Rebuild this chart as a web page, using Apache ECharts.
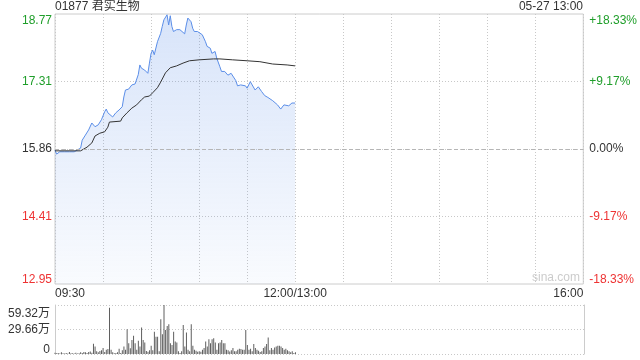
<!DOCTYPE html>
<html><head><meta charset="utf-8">
<script src="https://cdn.jsdelivr.net/npm/echarts@6/dist/echarts.min.js"></script>
<style>html,body{margin:0;padding:0;background:#fff}#c{width:640px;height:360px}</style>
</head><body><div id="c"></div>
<script>
const title = '01877 君实生物';
const stamp = '05-27 13:00';
const watermark = 'sina.com';
const prevClose = 15.86;
const priceMinutes = [0,1,3,6,9,12,16,17,19,21,23,24,25,27,29,31,32,33,36,38,40,42,43,44,46,48,50,52,53,54,56,58,59,60,61,62,64,66,67,68,69,70,71,72,73,74,76,78,79,81,82,83,85,86,87,89,92,94,95,97,98,100,101,103,104,106,108,110,111,113,114,116,119,120,122,123,125,127,129,131,133,136,139,141,143,146,148,150];
const prices = [15.84,15.75,15.80,15.80,15.80,15.80,15.88,16.05,16.16,16.27,16.42,16.45,16.34,16.38,16.49,16.66,16.72,16.64,16.55,16.64,16.70,16.77,16.98,17.13,17.15,17.24,17.26,17.46,17.67,17.60,17.56,17.49,17.71,17.92,17.99,17.89,18.17,18.35,18.50,18.64,18.68,18.75,18.53,18.73,18.50,18.39,18.43,18.43,18.46,18.34,18.53,18.68,18.60,18.46,18.39,18.39,18.32,18.17,18.07,18.03,17.92,17.96,17.82,17.63,17.53,17.53,17.45,17.49,17.53,17.33,17.22,17.24,17.22,17.17,17.31,17.28,17.13,17.20,17.10,17.01,16.97,16.90,16.81,16.72,16.81,16.79,16.85,16.85];
const avgMinutes = [0,16,20,23,25,28,31,33,34,41,42,45,48,51,54,56,59,61,64,66,69,72,76,80,84,90,99,103,111,120,128,136,145,150];
const avgPrices = [15.82,15.82,15.90,15.99,16.14,16.20,16.23,16.33,16.44,16.46,16.53,16.64,16.74,16.81,16.92,16.98,17.00,17.07,17.18,17.30,17.50,17.61,17.65,17.71,17.76,17.78,17.80,17.80,17.78,17.76,17.74,17.69,17.67,17.65];
// volume in 万 shares, one bar per minute from 09:30
const volumes = [1.5,0.8,1.2,0.5,2.0,1.0,0.6,1.3,0.5,2.5,0.8,1.0,0.7,1.5,0.6,1.0,2.0,1.2,
2.5,2.0,1.2,2.5,3.0,1.5,12.4,9,3.2,2.0,3.6,4.4,7.2,2.4,5.2,6.0,56,5.2,2,0.8,
1.2,2,6.4,1.2,4.4,9,5.2,30,13,7,17,22,13,5.2,16,9,32,17,14,3.6,
2.8,4.4,10,4.4,27,21,21,3.2,42,24,59.32,29,34,36,13,11,27,15,14,3.2,
1.2,3.2,35,9,26,5.2,3.2,36,10,5.2,4,2.8,3.2,2.8,5.2,7.2,15,9,18,13,
18,19,14,5.2,13,14,17,13,13,5.2,4.4,3.0,4.4,7.2,3.2,3.2,5.2,6.4,6,5.2,
5.2,29,11,5.2,6.4,3.2,12,7.2,5.2,4,2.4,3.2,7.2,9,12,20,4.4,7.2,5.2,8,
9,10,10,9,7.2,5.2,6.4,4.4,3.2,2,3.2,1.2,2];
const leftLabels = ['12.95','14.41','15.86','17.31','18.77'];
const rightLabels = ['-18.33%','-9.17%','0.00%','+9.17%','+18.33%'];
const timeLabels = ['09:30','12:00/13:00','16:00'];
const timeTicks = [0,150,330];
const volLabels = ['0','29.66万','59.32万'];

const PCT = 18.33, PSTEP = 9.165;
const VMAX = 59.32, VSTEP = 29.66;
const FONT = "'Liberation Sans', Arial, 'Noto Sans CJK SC', sans-serif";
const GREEN = '#1f9e2a', RED = '#ee3333', DARK = '#333333';
const labelColors = [RED, RED, DARK, GREEN, GREEN];
const toPct = p => (p / prevClose - 1) * 100;
const pIdx = v => Math.round((Number(v) + PCT) / PSTEP);

const edgeRich = {
  top: { padding: [13, 0, 0, 0] },
  vtop: { padding: [17, 0, 0, 0] },
  bot: { padding: [0, 0, 8, 0] },
  lft: { padding: [0, 0, 0, 30] },
  rgt: { padding: [0, 30, 0, 0] }
};
function yFmt(arr) {
  return function (v) {
    const i = pIdx(v);
    const t = arr[i];
    if (i === 4) return '{top|' + t + '}';
    if (i === 0) return '{bot|' + t + '}';
    return t;
  };
}

const chart = echarts.init(document.getElementById('c'), null, { renderer: 'canvas' });
chart.setOption({
  animation: false,
  textStyle: { fontFamily: FONT },
  graphic: [
    { type: 'text', left: 55, top: 1, style: { text: title, font: '12px ' + FONT, fill: DARK } },
    { type: 'text', right: 57, top: 1, style: { text: stamp, font: '12px ' + FONT, fill: DARK } },
    { type: 'text', left: 532, top: 272, style: { text: watermark, font: '12px ' + FONT, fill: '#cccccc' } }
  ],
  grid: [
    { left: 55, width: 529, top: 14, height: 270, show: true, borderColor: '#cccccc', borderWidth: 1, containLabel: false },
    { left: 55, width: 529, top: 305, height: 49, containLabel: false }
  ],
  xAxis: [
    {
      type: 'value', gridIndex: 0, min: 0, max: 330, interval: 30,
      axisLine: { show: false }, axisTick: { show: false },
      splitLine: { show: true, lineStyle: { type: [1, 2], color: '#c8c8c8' } },
      axisLabel: {
        margin: 4, fontSize: 12, color: DARK, fontFamily: FONT, rich: edgeRich,
        formatter: function (v) {
          const i = timeTicks.indexOf(v);
          if (i < 0) return '';
          if (i === 0) return '{lft|' + timeLabels[i] + '}';
          if (i === timeTicks.length - 1) return '{rgt|' + timeLabels[i] + '}';
          return timeLabels[i];
        }
      }
    },
    {
      type: 'value', gridIndex: 1, min: 0, max: 330, interval: 30,
      axisLine: { show: false }, axisTick: { show: false }, axisLabel: { show: false },
      splitLine: { show: false }
    }
  ],
  yAxis: [
    {
      type: 'value', gridIndex: 0, min: -PCT, max: PCT, interval: PSTEP,
      axisLine: { show: false }, axisTick: { show: false },
      splitLine: { show: true, lineStyle: { type: [1, 2], color: ['rgba(0,0,0,0)', '#c8c8c8', '#c8c8c8', '#c8c8c8', 'rgba(0,0,0,0)'] } },
      axisLabel: {
        margin: 3, fontSize: 12, fontFamily: FONT, rich: edgeRich,
        color: v => labelColors[pIdx(v)],
        formatter: yFmt(leftLabels)
      }
    },
    {
      type: 'value', gridIndex: 0, position: 'right', min: -PCT, max: PCT, interval: PSTEP,
      axisLine: { show: false }, axisTick: { show: false }, splitLine: { show: false },
      axisLabel: {
        margin: 6, fontSize: 12, fontFamily: FONT, rich: edgeRich,
        color: v => labelColors[pIdx(v)],
        formatter: yFmt(rightLabels)
      }
    },
    {
      type: 'value', gridIndex: 1, min: 0, max: VMAX, interval: VSTEP,
      axisLine: { show: true, lineStyle: { color: '#cccccc' } }, axisTick: { show: false },
      splitLine: { show: true, lineStyle: { type: [1, 2], color: '#c8c8c8' } },
      axisLabel: {
        margin: 5, fontSize: 12, color: DARK, fontFamily: FONT, rich: edgeRich,
        formatter: function (v) {
          const i = Math.round(v / VSTEP);
          if (i === 2) return '{vtop|' + volLabels[i] + '}';
          if (i === 0) return '{bot|' + volLabels[i] + '}';
          return volLabels[i];
        }
      }
    },
    {
      type: 'value', gridIndex: 1, position: 'right', min: 0, max: VMAX, interval: VSTEP,
      axisLine: { show: true, lineStyle: { color: '#cccccc' } }, axisTick: { show: false },
      axisLabel: { show: false }, splitLine: { show: false }
    }
  ],
  series: [
    {
      type: 'line', xAxisIndex: 0, yAxisIndex: 0, symbol: 'none', silent: true,
      data: priceMinutes.map((m, i) => [m, toPct(prices[i])]),
      lineStyle: { color: '#5b8ee8', width: 1 },
      areaStyle: {
        origin: 'start',
        color: new echarts.graphic.LinearGradient(0, 0, 0, 1, [
          { offset: 0, color: 'rgba(91,142,232,0.34)' },
          { offset: 1, color: 'rgba(91,142,232,0.05)' }
        ])
      },
      markLine: {
        silent: true, symbol: 'none', label: { show: false },
        lineStyle: { type: [4, 3], color: '#b5b5b5', width: 1 },
        data: [{ yAxis: 0 }]
      },
      z: 3
    },
    {
      type: 'line', xAxisIndex: 0, yAxisIndex: 0, symbol: 'none', silent: true,
      data: avgMinutes.map((m, i) => [m, toPct(avgPrices[i])]),
      lineStyle: { color: '#333333', width: 1 },
      z: 4
    },
    {
      type: 'bar', xAxisIndex: 1, yAxisIndex: 2, silent: true,
      barWidth: 1,
      data: volumes.map((v, i) => [i, v]),
      itemStyle: { color: '#5f5f5f' }
    }
  ]
});
</script>
</body></html>
